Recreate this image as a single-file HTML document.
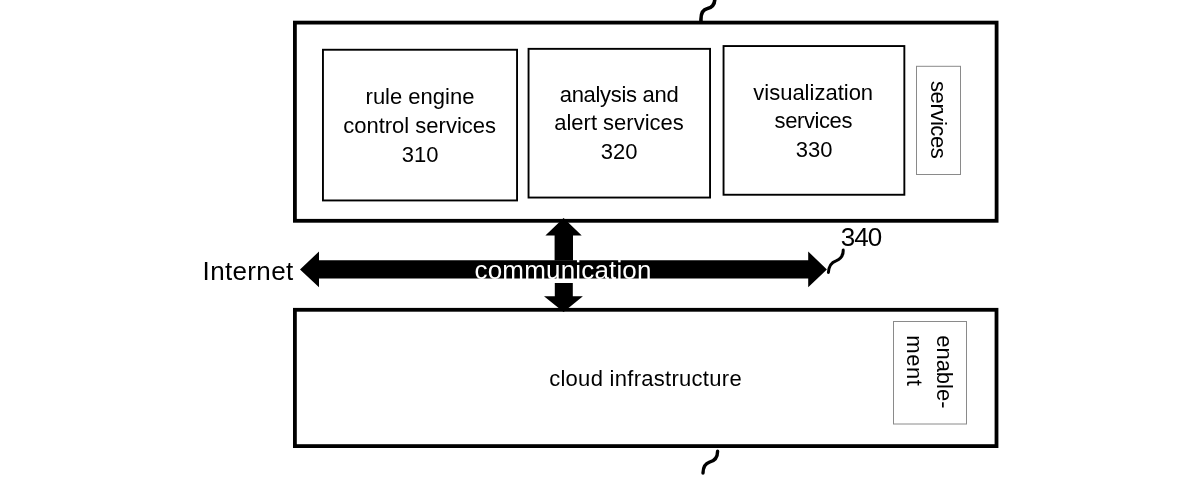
<!DOCTYPE html>
<html><head><meta charset="utf-8">
<style>
html,body{margin:0;padding:0;background:#fff;}
svg{display:block;will-change:transform;}
text{font-family:"Liberation Sans",sans-serif;fill:#000;}
.t{font-size:22px;}
.b{font-size:26px;}
</style></head><body>
<svg width="1186" height="477" viewBox="0 0 1186 477">
<rect x="0" y="0" width="1186" height="477" fill="#fff"/>
<!-- top squiggle -->
<path d="M701,21 C700.6,14 703,9.6 707.5,8.6 C712,7.4 714.8,4.5 714.8,-1" fill="none" stroke="#000" stroke-width="3.6" stroke-linecap="round"/>
<!-- bottom squiggle -->
<path d="M717.6,451.3 C717.6,457 714.5,461 709.5,462.2 C705,463.6 703.2,467 703,473" fill="none" stroke="#000" stroke-width="3.4" stroke-linecap="round"/>
<!-- top outer box -->
<rect x="294.9" y="22.6" width="701.7" height="198.2" fill="none" stroke="#000" stroke-width="3.8"/>
<rect x="322.95" y="49.75" width="194.1" height="150.7" fill="none" stroke="#000" stroke-width="1.9"/>
<rect x="528.55" y="48.85" width="181.5" height="148.7" fill="none" stroke="#000" stroke-width="1.9"/>
<rect x="723.55" y="46.05" width="180.8" height="148.7" fill="none" stroke="#000" stroke-width="1.9"/>
<rect x="916.5" y="66.3" width="44" height="108.2" fill="none" stroke="#8a8a8a" stroke-width="1"/>
<!-- bottom box -->
<rect x="294.9" y="309.8" width="701.6" height="136.3" fill="none" stroke="#000" stroke-width="3.8"/>
<rect x="893.5" y="321.5" width="73" height="102.5" fill="none" stroke="#8a8a8a" stroke-width="1"/>
<!-- horizontal arrow -->
<path d="M300,269.4 L319,251.5 L319,260.2 L808.2,260.2 L808.2,251.5 L826.9,269.4 L808.2,287.2 L808.2,278.4 L319,278.4 L319,287.2 Z" fill="#000"/>
<!-- up arrow -->
<path d="M563.6,217.9 L581.7,235.4 L573,235.4 L573,260.5 L554.6,260.5 L554.6,235.4 L545.4,235.4 Z" fill="#000"/>
<!-- down arrow -->
<path d="M554.8,282.9 L572.8,282.9 L572.8,296.2 L582.9,296.2 L563.6,312 L544,296.2 L554.8,296.2 Z" fill="#000"/>
<!-- 340 squiggle -->
<path d="M828.4,272.5 C828.8,266 831.5,262.3 836,260.8 C841,258.8 843.4,255 843.2,250" fill="none" stroke="#000" stroke-width="3" stroke-linecap="round"/>
<!-- texts -->
<text class="t" x="420" y="104" text-anchor="middle">rule engine</text>
<text class="t" x="419.6" y="133.3" text-anchor="middle">control services</text>
<text class="t" x="420.2" y="161.6" text-anchor="middle">310</text>
<text class="t" x="619.2" y="101.9" text-anchor="middle" textLength="118.9" lengthAdjust="spacing">analysis and</text>
<text class="t" x="619" y="130.4" text-anchor="middle">alert services</text>
<text class="t" x="619.2" y="158.7" text-anchor="middle">320</text>
<text class="t" x="813.2" y="99.5" text-anchor="middle">visualization</text>
<text class="t" x="813.5" y="127.8" text-anchor="middle" textLength="77.8" lengthAdjust="spacing">services</text>
<text class="t" x="814.2" y="156.7" text-anchor="middle">330</text>
<text class="t" x="645.4" y="385.5" text-anchor="middle" textLength="192.5" lengthAdjust="spacing">cloud infrastructure</text>
<text class="b" x="247.9" y="279.7" text-anchor="middle" textLength="90.6" lengthAdjust="spacing">Internet</text>
<text class="b" x="861.5" y="246" text-anchor="middle" textLength="41.4" lengthAdjust="spacing">340</text>
<text class="b" x="563" y="278.5" text-anchor="middle" style="fill:#fff" textLength="176.9" lengthAdjust="spacing">communication</text>
<text class="t" transform="translate(930.5,119.9) rotate(90)" text-anchor="middle" textLength="77.7" lengthAdjust="spacing">services</text>
<text class="t" transform="translate(936.7,371.85) rotate(90)" text-anchor="middle">enable-</text>
<text class="t" transform="translate(907.4,360.65) rotate(90)" text-anchor="middle" textLength="50.6" lengthAdjust="spacing">ment</text>
</svg>
</body></html>
